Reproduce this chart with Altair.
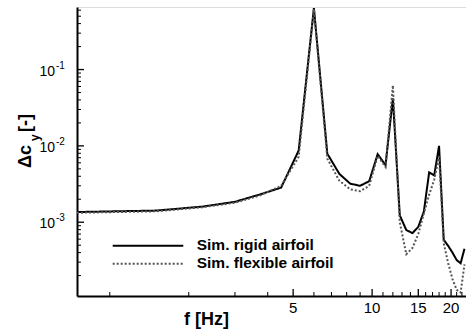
import altair as alt
import pandas as pd

# ---- data ----
freq = [0.75, 1.5, 2.25, 3.0, 3.75, 4.5, 5.25, 6.0, 6.75, 7.5, 8.25, 9.0, 9.75, 10.5,
        11.25, 12.0, 12.75, 13.5, 14.25, 15.0, 15.75, 16.5, 17.25, 18.0, 18.75, 19.5,
        20.25, 21.0, 21.75, 22.5]
rigid = [1.36e-3, 1.42e-3, 1.60e-3, 1.85e-3, 2.32e-3, 2.84e-3, 8.7e-3, 0.64, 7.9e-3,
         4.3e-3, 3.2e-3, 3.0e-3, 3.45e-3, 7.8e-3, 5.6e-3, 0.042, 1.23e-3, 7.9e-4, 7.2e-4,
         8.7e-4, 1.38e-3, 4.5e-3, 4.1e-3, 0.0100, 5.9e-4, 4.9e-4, 4.0e-4, 3.2e-4, 2.9e-4,
         4.5e-4]
flexible = [1.33e-3, 1.39e-3, 1.57e-3, 1.80e-3, 2.25e-3, 3.0e-3, 7.2e-3, 0.62, 6.8e-3,
            3.5e-3, 2.7e-3, 2.55e-3, 3.0e-3, 7.4e-3, 5.3e-3, 0.062, 1.0e-3, 3.8e-4, 4.6e-4,
            7.0e-4, 1.3e-3, 2.3e-3, 3.6e-3, 7.3e-3, 5.3e-4, 2.9e-4, 1.8e-4, 1.3e-4, 1.2e-4,
            2.8e-4]
series_names = ["Sim. rigid airfoil", "Sim. flexible airfoil"]

x_major = [5, 10, 15, 20]
x_major_labels = ["5", "10", "15", "20"]
x_minor = [1, 2, 3, 4, 6, 7, 8, 9, 11, 12, 13, 14, 16, 17, 18, 19, 21, 22]
y_major = [1e-3, 1e-2, 1e-1]
y_major_exp = ["-3", "-2", "-1"]
y_minor = [2e-4, 3e-4, 4e-4, 5e-4, 6e-4, 7e-4, 8e-4, 9e-4,
           2e-3, 3e-3, 4e-3, 5e-3, 6e-3, 7e-3, 8e-3, 9e-3,
           2e-2, 3e-2, 4e-2, 5e-2, 6e-2, 7e-2, 8e-2, 9e-2,
           2e-1, 3e-1, 4e-1, 5e-1, 6e-1]

x_domain = [0.75, 22.8]
y_domain = [1.08e-4, 0.66]

W, H = 389, 289
FONT = "Liberation Sans"

rows = []
for f, r, fl in zip(freq, rigid, flexible):
    rows.append({"f": f, "v": r, "series": series_names[0]})
    rows.append({"f": f, "v": fl, "series": series_names[1]})
df = pd.DataFrame(rows)

xs = alt.Scale(type="log", domain=x_domain, nice=False, zero=False)
ys = alt.Scale(type="log", domain=y_domain, nice=False, zero=False)

x_axis = alt.Axis(labels=False, ticks=False, tickSize=0, grid=False,
                  domainColor="black", domainWidth=2, title=None)
y_axis = alt.Axis(labels=False, ticks=False, tickSize=0, grid=False,
                  domainColor="black", domainWidth=2, title=None)

lines = alt.Chart(df).mark_line(clip=True, strokeWidth=2).encode(
    x=alt.X("f:Q", scale=xs, axis=x_axis),
    y=alt.Y("v:Q", scale=ys, axis=y_axis),
    color=alt.Color("series:N", scale=alt.Scale(domain=series_names, range=["black", "#555555"]), legend=None),
    strokeDash=alt.StrokeDash("series:N", scale=alt.Scale(domain=series_names, range=[[1, 0], [2, 2]]), legend=None),
    detail="series:N",
)

# inward ticks
ytick_major = alt.Chart(pd.DataFrame({"v": y_major})).mark_rule(color="black", strokeWidth=1.3).encode(
    y=alt.Y("v:Q", scale=ys, axis=y_axis), x=alt.value(0), x2=alt.value(7))
ytick_minor = alt.Chart(pd.DataFrame({"v": y_minor})).mark_rule(color="black", strokeWidth=1).encode(
    y=alt.Y("v:Q", scale=ys, axis=y_axis), x=alt.value(0), x2=alt.value(4))
xtick_major = alt.Chart(pd.DataFrame({"f": x_major})).mark_rule(color="black", strokeWidth=1.3).encode(
    x=alt.X("f:Q", scale=xs, axis=x_axis), y=alt.value(H), y2=alt.value(H - 7))
xtick_minor = alt.Chart(pd.DataFrame({"f": x_minor})).mark_rule(color="black", strokeWidth=1).encode(
    x=alt.X("f:Q", scale=xs, axis=x_axis), y=alt.value(H), y2=alt.value(H - 4))

# x tick labels
xlab = alt.Chart(pd.DataFrame({"f": x_major, "t": x_major_labels})).mark_text(
    font=FONT, fontSize=15, align="center", baseline="middle", color="black").encode(
    x=alt.X("f:Q", scale=xs, axis=x_axis), y=alt.value(H + 12), text="t:N")

# y tick labels 10^n
ylab_df = pd.DataFrame({"v": y_major, "e": y_major_exp})
ylab_base = alt.Chart(ylab_df).mark_text(font=FONT, fontSize=14, align="right", baseline="middle",
                                        dy=2, color="black").encode(
    y=alt.Y("v:Q", scale=ys, axis=y_axis), x=alt.value(-22), text=alt.value("10"))
ylab_exp = alt.Chart(ylab_df).mark_text(font=FONT, fontSize=10, align="left", baseline="middle",
                                       dy=-4, color="black").encode(
    y=alt.Y("v:Q", scale=ys, axis=y_axis), x=alt.value(-21), text="e:N")

# titles
one = pd.DataFrame({"a": [0]})
xtitle = alt.Chart(one).mark_text(font=FONT, fontSize=18, fontWeight="bold", align="center",
                                  baseline="middle", color="black").encode(
    x=alt.value(129.5), y=alt.value(313), text=alt.value("f [Hz]"))
yt1 = alt.Chart(one).mark_text(font=FONT, fontSize=18, fontWeight="bold", align="left",
                               baseline="middle", angle=270, color="black").encode(
    x=alt.value(-51), y=alt.value(161), text=alt.value("Δc"))
yt2 = alt.Chart(one).mark_text(font=FONT, fontSize=12, fontWeight="bold", align="left",
                               baseline="middle", angle=270, color="black").encode(
    x=alt.value(-42), y=alt.value(134), text=alt.value("y"))
yt3 = alt.Chart(one).mark_text(font=FONT, fontSize=18, fontWeight="bold", align="left",
                               baseline="middle", angle=270, color="black").encode(
    x=alt.value(-51), y=alt.value(125), text=alt.value("[-]"))

# legend
leg_layers = []
leg_y = [238.7, 256.7]
leg_colors = ["black", "#555555"]
leg_dash = [[1, 0], [2, 2]]
for i, name in enumerate(series_names):
    ldf = pd.DataFrame({"series": [name]})
    leg_layers.append(alt.Chart(ldf).mark_rule(color=leg_colors[i], strokeWidth=2, strokeDash=leg_dash[i]).encode(
        x=alt.value(35.7), x2=alt.value(106.3), y=alt.value(leg_y[i])))
    leg_layers.append(alt.Chart(ldf).mark_text(font=FONT, fontSize=15.5, fontWeight="bold", align="left",
                                               baseline="middle", color="black").encode(
        x=alt.value(119.7), y=alt.value(leg_y[i] - 1), text="series:N"))

chart = alt.layer(
    lines, ytick_major, ytick_minor, xtick_major, xtick_minor, xlab, ylab_base, ylab_exp,
    xtitle, yt1, yt2, yt3, *leg_layers
).properties(
    width=W, height=H,
    autosize=alt.AutoSizeParams(type="none"),
    padding={"left": 77, "top": 7, "right": 0, "bottom": 37},
).configure_view(stroke=None).configure(background="white")

chart.save("out.html", embed_options={"renderer": "svg", "actions": False})
